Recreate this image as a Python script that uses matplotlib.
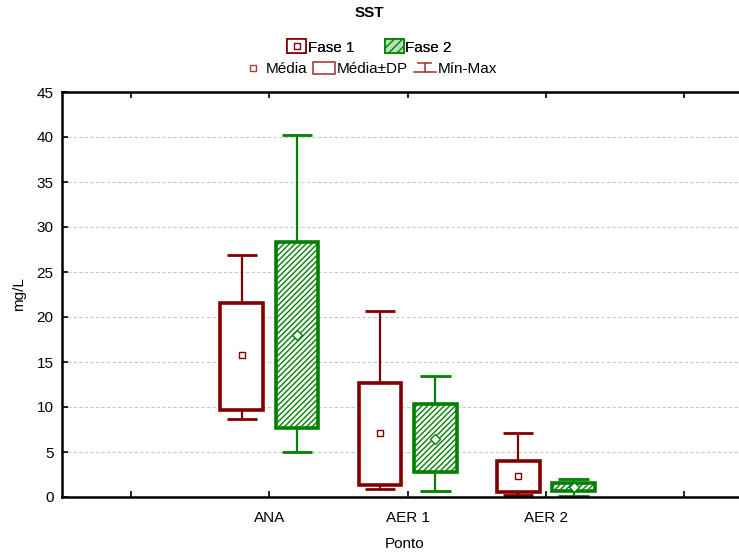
import matplotlib.pyplot as plt
from matplotlib.patches import Patch
from matplotlib.lines import Line2D
from matplotlib.legend_handler import HandlerTuple, HandlerBase

plt.rcParams['font.family'] = ['Liberation Sans', 'DejaVu Sans']
plt.rcParams['hatch.linewidth'] = 1.0

# data
pontos = ['ANA', 'AER 1', 'AER 2']
x_pos = [1, 2, 3]

f1_media = [15.8, 7.1, 2.3]
f1_dp_low = [9.7, 1.3, 0.6]
f1_dp_high = [21.6, 12.7, 4.0]
f1_min = [8.7, 0.9, 0.2]
f1_max = [26.9, 20.7, 7.1]

f2_media = [18.0, 6.4, 1.1]
f2_dp_low = [7.7, 2.8, 0.7]
f2_dp_high = [28.3, 10.3, 1.6]
f2_min = [5.0, 0.7, 0.1]
f2_max = [40.2, 13.4, 2.0]

red = '#800000'
green = '#008000'
light_red = '#a84040'


class MinMaxHandler(HandlerBase):
    # small whisker symbol for the legend
    def create_artists(self, legend, orig, xd, yd, w, h, fontsize, trans):
        cx = xd + w / 2
        top = yd + h * 0.85
        bot = yd + h * 0.05
        l1 = Line2D([cx - w * 0.3, cx + w * 0.3], [top, top], color=light_red, lw=1.2, transform=trans)
        l2 = Line2D([cx, cx], [top, bot], color=light_red, lw=1.2, transform=trans)
        l3 = Line2D([xd, xd + w], [bot, bot], color=light_red, lw=1.2, transform=trans)
        return [l1, l2, l3]


fig = plt.figure(figsize=(7.39, 5.53), dpi=100)
ax = fig.add_axes([62 / 739, 56 / 553, 1 - 62 / 739 + 0.01, 405 / 553])

fases = [
    (f1_media, f1_dp_low, f1_dp_high, f1_min, f1_max, -0.2, red, 's', None),
    (f2_media, f2_dp_low, f2_dp_high, f2_min, f2_max, 0.2, green, 'D', '//////'),
]
box_w = 0.31
cap_w = 0.22
for media, lo, hi, mn, mx, off, col, mk, hatch in fases:
    xs = [x + off for x in x_pos]
    ax.vlines(xs, hi, mx, color=col, lw=1.6, zorder=2)
    ax.vlines(xs, mn, lo, color=col, lw=1.6, zorder=2)
    ax.hlines(mx, [x - cap_w / 2 for x in xs], [x + cap_w / 2 for x in xs], color=col, lw=2, zorder=2)
    ax.hlines(mn, [x - cap_w / 2 for x in xs], [x + cap_w / 2 for x in xs], color=col, lw=2, zorder=2)
    heights = [h - l for h, l in zip(hi, lo)]
    ax.bar(xs, heights, bottom=lo, width=box_w, facecolor='white', edgecolor=col,
           lw=2.6, hatch=hatch, zorder=3)
    ax.plot(xs, media, linestyle='none', marker=mk, ms=5, mfc='white',
            mec=col, mew=1, zorder=4)

ax.set_xlim(-0.5, 4.45)
ax.set_ylim(0, 45)
ax.set_yticks(range(0, 46, 5))
ax.set_xticks([0, 1, 2, 3, 4])
ax.set_xticklabels(['', 'ANA', 'AER 1', 'AER 2', ''])
ax.tick_params(direction='in', length=4, width=1.2, labelsize=11, top=True, pad=6)
ax.tick_params(axis='x', pad=10)
ax.yaxis.grid(True, linestyle=(0, (3, 2)), color='#c8c8c8', lw=0.8)
ax.set_axisbelow(True)
for s in ax.spines.values():
    s.set_linewidth(1.8)
ax.set_xlabel('Ponto', fontsize=11, labelpad=9)
ax.set_ylabel('mg/L', fontsize=11, labelpad=8)

fig.text(0.5, 1 - 13 / 553, 'SST', ha='center', va='center', fontsize=11, fontweight='bold')

# legend row 1
h1 = (Patch(facecolor='white', edgecolor=red, lw=1.2),
      Line2D([], [], ls='none', marker='s', ms=4, mfc='white', mec=red, mew=1))
h2 = Patch(facecolor='#b8e0b8', edgecolor=green, hatch='////', lw=1.2)
leg1 = fig.legend([h1, h2], ['Fase 1', 'Fase 2'], loc='center', bbox_to_anchor=(0.5, 1 - 47 / 553),
                  ncol=2, frameon=False, fontsize=11, handlelength=1.25, handleheight=1.0,
                  handletextpad=0.1, columnspacing=2.0,
                  handler_map={tuple: HandlerTuple(ndivide=1, pad=0)})
fig.add_artist(leg1)

# legend row 2
hm = Line2D([], [], ls='none', marker='s', ms=5, mfc='white', mec=light_red, mew=1)
hdp = Patch(facecolor='white', edgecolor=light_red, lw=1.2)
hmm = Line2D([], [])
fig.legend([hm, hdp, hmm], ['Média', 'Média±DP', 'Mín-Max'], loc='center',
           bbox_to_anchor=(0.5, 1 - 69 / 553), ncol=3, frameon=False, fontsize=11,
           handlelength=1.4, handleheight=0.8, handletextpad=0.15, columnspacing=0.4,
           handler_map={hmm: MinMaxHandler()})

fig.savefig('out.png', dpi=100)
